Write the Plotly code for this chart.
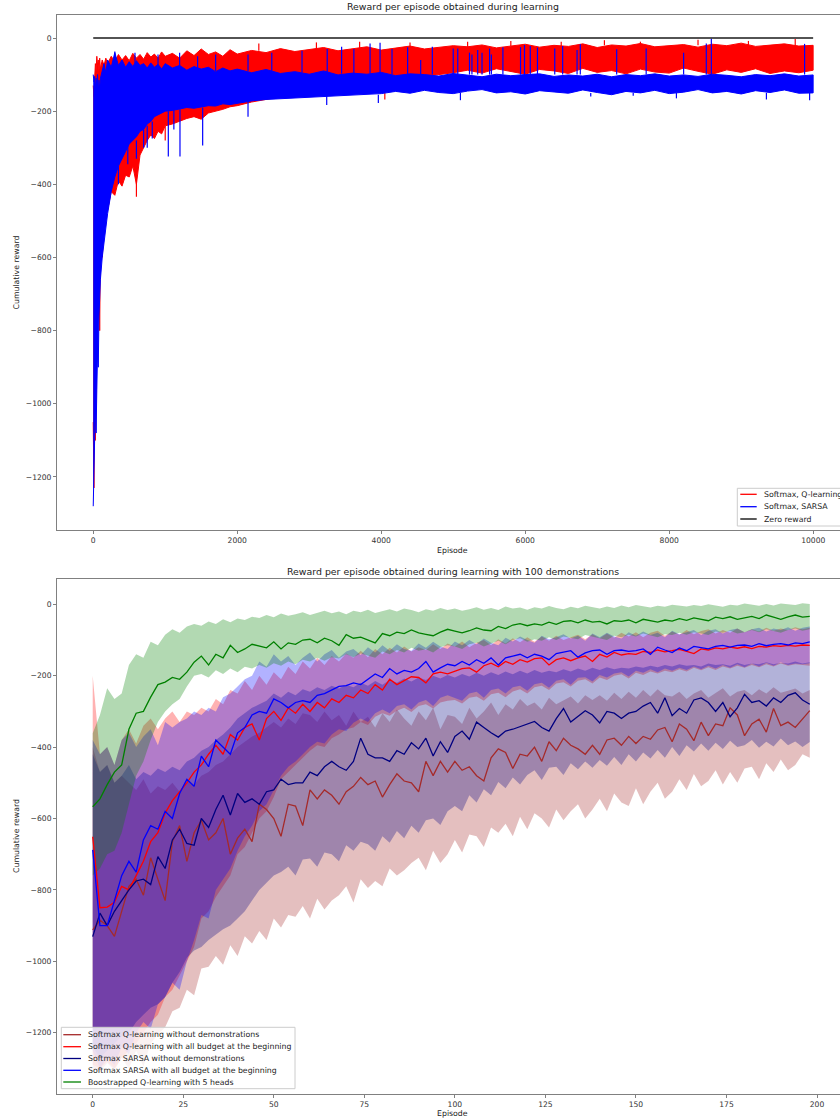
import plotly.graph_objects as go

W, H = 840, 1118
def X(px): return px / W
def Y(py): return 1 - py / H

FONT = "DejaVu Sans"
TXT = "#222222"

# ---------------- TOP CHART DATA ----------------
TOP_TITLE = "Reward per episode obtained during learning"
TOP_LABELS = ["Softmax, Q-learning", "Softmax, SARSA", "Zero reward"]
TOP_XTICKS = [0, 2000, 4000, 6000, 8000, 10000]
TOP_XTICKTEXT = ["0", "2000", "4000", "6000", "8000", "10000"]
YTICKS = [-1200, -1000, -800, -600, -400, -200, 0]
YTICKTEXT = ["\u22121200", "\u22121000", "\u2212800", "\u2212600", "\u2212400", "\u2212200", "0"]

TOP_EP = [0, 10, 20, 30, 40, 50, 60, 70, 80, 90, 100,
          125, 150, 175, 200,
          250, 300, 350, 400, 450, 500, 550, 600, 650, 700, 750, 800, 850, 900, 950, 1000,
          1100, 1200, 1300, 1400, 1500, 1600, 1700, 1800, 1900, 2000,
          2200, 2400, 2600, 2800, 3000, 3200, 3400, 3600, 3800, 4000, 4200, 4400, 4600, 4800, 5000,
          5200, 5400, 5600, 5800, 6000, 6200, 6400, 6600, 6800, 7000, 7200, 7400, 7600, 7800, 8000,
          8200, 8400, 8600, 8800, 9000, 9200, 9400, 9600, 9800, 9999]

RED_UP = [-130, -160, -110, -70, -90, -50, -75, -60, -90, -55, -85,
          -60, -75, -55, -70,
          -50, -65, -45, -60, -48, -62, -42, -55, -45, -58, -40, -52, -44, -55, -38, -50,
          -42, -55, -35, -48, -30, -45, -38, -50, -32, -44,
          -34, -40, -29, -37, -31, -26, -35, -30, -24, -33, -27, -22, -30, -25, -21,
          -24, -19, -27, -21, -17, -25, -20, -23, -16, -26, -19, -22, -15, -24, -20,
          -18, -25, -17, -21, -14, -23, -19, -16, -22, -20]
RED_LO = [-1050, -1230, -900, -1100, -950, -800, -700, -750, -620, -800, -560,
          -600, -520, -480, -470,
          -420, -430, -390, -405, -375, -380, -350, -400, -320, -300, -280, -265, -275, -255, -262, -240,
          -235, -228, -220, -215, -222, -205, -200, -195, -188, -185,
          -175, -168, -160, -155, -150, -148, -140, -135, -130, -125, -120, -110, -105, -100, -95,
          -88, -96, -84, -92, -99, -86, -90, -97, -83, -94, -89, -98, -85, -93, -96,
          -82, -91, -99, -87, -94, -84, -97, -90, -95, -88]
BLUE_UP = [-100, -120, -105, -140, -110, -130, -100, -150, -115, -140, -110,
           -90, -70, -95, -60,
           -80, -40, -75, -60, -80, -65, -78, -62, -75, -70, -82, -68, -80, -72, -85, -70,
           -82, -75, -88, -78, -85, -80, -92, -82, -90, -85,
           -95, -86, -97, -92, -99, -90, -101, -96, -99, -94, -103, -98, -100, -104, -97,
           -102, -106, -99, -103, -100, -98, -105, -101, -104, -99, -106, -100, -103, -98, -104,
           -101, -105, -99, -102, -106, -100, -103, -98, -104, -101]
BLUE_LO = [-1280, -1160, -1100, -1000, -1080, -960, -860, -900, -760, -700, -660,
           -600, -560, -520, -480,
           -420, -380, -350, -330, -310, -290, -280, -270, -255, -250, -235, -228, -215, -210, -205, -200,
           -198, -195, -190, -192, -188, -185, -186, -180, -182, -178,
           -172, -168, -165, -162, -160, -158, -156, -155, -154, -152, -146, -151, -143, -149, -152,
           -145, -141, -150, -147, -153, -144, -148, -151, -142, -149, -155, -146, -150, -143, -152,
           -148, -141, -150, -146, -153, -144, -149, -142, -151, -150]

BLUE_SPK_EP = [300, 580, 900, 1200, 1450, 1700,
               2150, 2480, 2900, 3250, 3450, 3620, 3845, 3984, 4150, 4367,
               4548, 4710, 5000, 5063, 5226, 5260, 5340, 5400, 5505, 5530,
               5690, 5935, 5990, 6070, 6170, 6410, 6520, 6720, 6765, 7270,
               7680, 8200, 8515, 8585, 9880,
               350, 480, 600, 700, 750, 820, 1043, 1120, 1205, 1520,
               2150, 3243, 3960, 5100, 6910, 7500, 8100, 9350, 9950]
BLUE_SPK_FROM = [-60, -70, -80, -80, -85, -90,
                 -90, -90, -95, -95, -98, -98, -98, -98, -100, -100,
                 -100, -100, -100, -100, -100, -100, -100, -100, -100, -100,
                 -100, -100, -100, -100, -100, -100, -100, -100, -100, -100,
                 -100, -100, -100, -100, -100,
                 -350, -290, -280, -250, -240, -228, -200, -198, -195, -190,
                 -175, -158, -155, -150, -150, -150, -150, -150, -150]
BLUE_SPK_TO = [-37, -40, -45, -40, -50, -45,
               -45, -40, -35, -30, -24, -30, -15, -13, -30, -25,
               -60, -24, -29, -29, -40, -45, -33, -40, -29, -45,
               -25, -25, -19, -22, -26, -29, -22, -33, -17, -31,
               -29, -40, -15, -2, -16,
               -400, -345, -330, -300, -300, -275, -324, -250, -324, -294,
               -215, -183, -178, -170, -160, -158, -165, -168, -170]

RED_SPK_EP = [2300, 3100, 3700, 4400, 5200, 5800, 6500, 7100, 7600, 8400, 9100, 9750,
              600, 1000, 4920, 4050]
RED_SPK_FROM = [-35, -30, -30, -28, -25, -22, -22, -20, -22, -20, -20, -20,
                -360, -240, -95, -150]
RED_SPK_TO = [-15, -12, -10, -12, -10, -8, -10, -6, -10, -5, -8, -3,
              -434, -280, -112, -168]

ZERO_EP = [0, 9999]
ZERO_VAL = [0, 0]

# ---------------- BOTTOM CHART DATA ----------------
BOT_TITLE = "Reward per episode obtained during learning with 100 demonstrations"
BOT_LABELS = ["Softmax Q-learning without demonstrations",
              "Softmax Q-learning with all budget at the beginning",
              "Softmax SARSA without demonstrations",
              "Softmax SARSA with all budget at the beginning",
              "Boostrapped Q-learning with 5 heads"]
BOT_XTICKS = [0, 25, 50, 75, 100, 125, 150, 175, 200]
BOT_XTICKTEXT = ["0", "25", "50", "75", "100", "125", "150", "175", "200"]

EP2 = list(range(0, 200, 2))

BROWN_MEAN = [-912, -885, -900, -930, -860, -790, -770, -815, -710, -770,
              -830, -665, -620, -720, -640, -605, -660, -640, -600, -700,
              -655, -630, -665, -560, -575, -600, -650, -560, -565, -620,
              -520, -545, -520, -535, -560, -525, -510, -485, -505, -495,
              -540, -505, -475, -495, -500, -525, -440, -480, -440, -470,
              -440, -465, -455, -480, -495, -430, -405, -415, -460, -420,
              -425, -400, -440, -385, -410, -375, -395, -405, -420, -395,
              -420, -380, -375, -395, -370, -390, -370, -378, -352, -345,
              -385, -335, -350, -382, -330, -368, -335, -340, -290, -310,
              -368, -335, -322, -358, -292, -340, -330, -345, -320, -298]
RED_MEAN = [-651, -850, -848, -835, -790, -800, -760, -720, -665, -640,
            -585, -550, -525, -500, -470, -450, -420, -395, -420, -365,
            -380, -345, -335, -380, -320, -300, -325, -290, -305, -280,
            -300, -275, -290, -265, -275, -255, -262, -240, -250, -225,
            -240, -210, -225, -215, -203, -205, -220, -195, -190, -195,
            -188, -180, -178, -190, -172, -165, -175, -160, -168, -155,
            -162, -152, -150, -170, -155, -150, -158, -150, -145, -160,
            -140, -148, -135, -142, -138, -140, -132, -135, -128, -133,
            -130, -126, -132, -138, -125, -128, -122, -125, -120, -123,
            -119, -124, -118, -120, -116, -118, -115, -117, -114, -115]
NAVY_MEAN = [-931, -865, -900, -860, -830, -800, -775, -770, -785, -707,
             -740, -660, -630, -670, -675, -600, -625, -575, -535, -590,
             -530, -555, -545, -560, -525, -520, -490, -505, -500, -500,
             -470, -480, -455, -440, -455, -465, -440, -375, -420, -430,
             -430, -440, -410, -420, -388, -405, -375, -425, -385, -415,
             -370, -355, -378, -330, -345, -360, -372, -355, -350, -343,
             -335, -328, -345, -355, -320, -292, -330, -315, -298, -310,
             -332, -300, -305, -320, -305, -300, -285, -275, -305, -262,
             -312, -292, -305, -268, -262, -275, -300, -275, -315, -290,
             -252, -275, -270, -285, -262, -275, -255, -248, -268, -280]
BLUE_MEAN = [-688, -900, -900, -830, -760, -720, -750, -660, -620, -630,
             -580, -600, -530, -490, -510, -425, -455, -380, -400, -420,
             -360, -345, -310, -300, -305, -265, -275, -290, -275, -270,
             -275, -255, -250, -240, -230, -228, -220, -225, -210, -195,
             -205, -180, -195, -185, -190, -180, -160, -190, -178, -168,
             -172, -160, -170, -155, -165, -150, -170, -150, -145, -140,
             -150, -140, -145, -155, -138, -135, -130, -148, -136, -130,
             -128, -140, -130, -128, -132, -130, -125, -140, -120, -128,
             -135, -122, -130, -118, -122, -125, -118, -115, -120, -115,
             -114, -118, -110, -116, -112, -110, -114, -108, -110, -105]
GREEN_MEAN = [-567, -545, -505, -470, -450, -350, -305, -300, -260, -225,
              -218, -205, -210, -190, -162, -145, -170, -140, -150, -115,
              -135, -125, -112, -118, -122, -105, -125, -108, -112, -100,
              -98, -108, -95, -102, -115, -85, -95, -92, -100, -108,
              -82, -88, -78, -82, -72, -80, -84, -88, -78, -70,
              -75, -80, -74, -66, -72, -74, -62, -68, -58, -54,
              -60, -55, -58, -50, -56, -48, -46, -52, -44, -50,
              -48, -55, -46, -48, -44, -52, -42, -46, -50, -44,
              -47, -40, -45, -38, -42, -46, -36, -40, -35, -42,
              -38, -34, -40, -30, -36, -42, -35, -30, -36, -34]

BROWN_UP = [-400, -470, -450, -500, -480, -500, -520, -490, -530, -510,
            -520, -500, -525, -490, -505, -480, -470, -450, -440, -420,
            -400, -385, -370, -360, -345, -330, -345, -320, -335, -305,
            -310, -330, -300, -325, -310, -340, -300, -330, -315, -345,
            -305, -330, -295, -320, -340, -300, -325, -290, -350, -310,
            -315, -335, -290, -320, -300, -275, -310, -280, -295, -265,
            -285, -275, -295, -262, -280, -268, -258, -278, -255, -268,
            -255, -270, -248, -265, -245, -262, -240, -258, -238, -255,
            -258, -245, -265, -250, -240, -262, -248, -235, -258, -245,
            -240, -255, -238, -250, -232, -248, -242, -236, -250, -240]
BROWN_LO = [-1300, -1310, -1285, -1305, -1270, -1300, -1250, -1295, -1230, -1205,
            -1185, -1140, -1130, -1080, -1095, -1020, -1015, -985, -1010, -955,
            -985, -930, -950, -915, -940, -880, -905, -870, -875, -845,
            -880, -825, -855, -830, -815, -790, -835, -770, -795, -775,
            -790, -740, -760, -745, -725, -710, -745, -690, -725, -700,
            -660, -695, -645, -650, -680, -625, -640, -615, -650, -595,
            -630, -585, -600, -625, -575, -605, -580, -560, -600, -575,
            -545, -580, -530, -555, -565, -515, -560, -525, -500, -545,
            -525, -490, -520, -475, -510, -495, -465, -505, -470, -500,
            -460, -455, -490, -445, -470, -435, -465, -450, -420, -430]
RED_UP2 = [-200, -420, -400, -450, -380, -350, -390, -340, -320, -350,
           -320, -300, -330, -300, -310, -290, -300, -265, -280, -240,
           -250, -215, -240, -200, -225, -190, -210, -175, -195, -160,
           -180, -150, -170, -145, -160, -138, -150, -130, -148, -125,
           -140, -122, -135, -118, -132, -120, -128, -112, -125, -110,
           -118, -104, -120, -108, -100, -115, -98, -110, -95, -106,
           -92, -105, -90, -102, -88, -100, -92, -85, -98, -84,
           -95, -82, -94, -80, -90, -78, -92, -80, -74, -88,
           -76, -85, -72, -84, -75, -70, -82, -72, -80, -68,
           -78, -70, -76, -66, -74, -68, -72, -64, -70, -66]
RED_LO2 = [-1290, -1300, -1280, -1300, -1270, -1250, -1230, -1200, -1170, -1150,
           -1100, -1080, -1040, -1000, -960, -880, -860, -820, -790, -760,
           -700, -680, -640, -600, -580, -540, -490, -470, -450, -430,
           -410, -395, -400, -375, -365, -350, -345, -330, -338, -315,
           -305, -312, -298, -290, -302, -285, -280, -292, -275, -270,
           -268, -278, -262, -258, -270, -252, -248, -260, -244, -238,
           -250, -232, -228, -240, -222, -218, -230, -214, -210, -222,
           -205, -212, -200, -196, -208, -192, -198, -188, -194, -186,
           -190, -182, -188, -178, -185, -176, -184, -174, -180, -172,
           -178, -170, -176, -168, -174, -166, -172, -168, -170, -172]
NAVY_UP = [-420, -470, -450, -500, -480, -450, -490, -470, -480, -460,
           -470, -455, -465, -440, -430, -410, -400, -380, -365, -345,
           -320, -305, -290, -280, -270, -250, -262, -245, -255, -238,
           -245, -232, -240, -228, -236, -225, -232, -220, -228, -215,
           -225, -212, -220, -208, -216, -205, -212, -200, -208, -198,
           -205, -195, -202, -192, -200, -190, -198, -188, -196, -186,
           -194, -184, -192, -186, -190, -182, -188, -180, -186, -178,
           -184, -176, -182, -178, -180, -174, -178, -172, -176, -170,
           -174, -168, -172, -170, -174, -166, -170, -168, -172, -164,
           -170, -166, -168, -162, -168, -164, -166, -160, -166, -162]
NAVY_LO = [-1240, -1270, -1250, -1230, -1210, -1200, -1170, -1150, -1130, -1120,
           -1100, -1060, -1030, -990, -970, -960, -940, -925, -910, -900,
           -880, -860, -830, -800, -780, -760, -750, -735, -760, -715,
           -712, -735, -695, -700, -720, -675, -690, -665, -672, -690,
           -650, -668, -635, -655, -620, -640, -605, -600, -618, -580,
           -565, -580, -535, -555, -518, -535, -498, -515, -485, -505,
           -478, -465, -492, -458, -455, -478, -445, -462, -440, -458,
           -436, -452, -428, -450, -420, -440, -415, -432, -408, -430,
           -400, -425, -395, -412, -390, -410, -388, -405, -382, -400,
           -395, -380, -402, -385, -398, -376, -395, -384, -400, -386]
BLUE_UP2 = [-380, -420, -400, -450, -380, -360, -400, -370, -350, -395,
            -330, -345, -330, -320, -300, -310, -290, -300, -260, -250,
            -230, -210, -200, -160, -175, -140, -160, -145, -170, -150,
            -135, -160, -140, -128, -150, -132, -125, -142, -120, -135,
            -115, -130, -112, -125, -130, -110, -122, -105, -118, -125,
            -104, -115, -100, -112, -96, -108, -115, -94, -104, -90,
            -100, -108, -88, -98, -92, -84, -96, -88, -102, -82,
            -92, -80, -90, -96, -78, -88, -76, -86, -80, -92,
            -74, -84, -78, -72, -86, -74, -70, -82, -72, -68,
            -78, -70, -66, -76, -68, -72, -64, -74, -66, -62]
BLUE_LO2 = [-1250, -1300, -1270, -1290, -1240, -1260, -1200, -1170, -1190, -1120,
            -1100, -1060, -1080, -1000, -940, -870, -880, -800, -770, -740,
            -690, -650, -620, -580, -560, -520, -480, -455, -440, -420,
            -400, -385, -390, -365, -350, -355, -332, -320, -330, -305,
            -295, -305, -285, -280, -295, -275, -268, -285, -262, -255,
            -262, -270, -250, -245, -262, -240, -236, -250, -232, -228,
            -242, -224, -220, -234, -214, -210, -225, -206, -204, -216,
            -198, -205, -194, -190, -202, -186, -192, -182, -190, -180,
            -186, -178, -184, -174, -182, -172, -180, -170, -178, -168,
            -176, -166, -174, -164, -172, -162, -170, -166, -168, -165]
GREEN_UP = [-361, -310, -235, -265, -250, -170, -140, -150, -105, -115,
            -85, -70, -80, -62, -55, -60, -48, -55, -42, -50,
            -40, -44, -35, -38, -30, -36, -26, -32, -28, -22,
            -30, -24, -18, -25, -20, -28, -18, -22, -15, -24,
            -18, -14, -20, -12, -16, -22, -14, -18, -10, -16,
            -12, -18, -14, -8, -15, -10, -16, -6, -12, -9,
            -15, -8, -12, -5, -10, -14, -7, -11, -4, -9,
            -12, -6, -10, -3, -8, -2, -5, -9, -4, -7,
            -1, -3, -6, -2, -5, 0, -4, -7, -1, -3,
            2, -2, -4, 1, -3, 2, 0, -2, 3, 1]
GREEN_LO = [-760, -740, -700, -690, -640, -560, -480, -440, -380, -330,
            -300, -280, -265, -230, -200, -195, -205, -185, -195, -180,
            -190, -175, -180, -170, -178, -165, -172, -160, -168, -155,
            -160, -150, -158, -148, -152, -140, -148, -138, -145, -150,
            -132, -140, -128, -135, -122, -130, -126, -135, -120, -115,
            -118, -125, -112, -108, -118, -110, -102, -112, -100, -95,
            -105, -98, -102, -92, -100, -90, -94, -98, -86, -92,
            -95, -100, -88, -92, -85, -90, -82, -88, -92, -84,
            -86, -80, -85, -78, -82, -86, -76, -80, -74, -82,
            -78, -72, -78, -70, -76, -80, -72, -68, -74, -70]

# ---------------- FIGURE ----------------
fig = go.Figure()

def polygon(xs, up, lo, fill, xa, ya, line_w=0.0, line_c=None):
    fig.add_trace(go.Scatter(
        x=list(xs) + list(xs)[::-1], y=list(up) + list(lo)[::-1],
        mode="lines", fill="toself", fillcolor=fill,
        line=dict(width=line_w, color=line_c or fill),
        hoverinfo="skip", showlegend=False, xaxis=xa, yaxis=ya))

def spikes(eps, a, b, color, xa, ya):
    xs, ys = [], []
    for e, s, t in zip(eps, a, b):
        xs += [e, e, None]
        ys += [s, t, None]
    fig.add_trace(go.Scatter(x=xs, y=ys, mode="lines", line=dict(color=color, width=1.2),
                             hoverinfo="skip", showlegend=False, xaxis=xa, yaxis=ya))

# top chart
polygon(TOP_EP, RED_UP, RED_LO, "#ff0000", "x", "y", 1.0, "#ff0000")
spikes(RED_SPK_EP, RED_SPK_FROM, RED_SPK_TO, "#ff0000", "x", "y")
polygon(TOP_EP, BLUE_UP, BLUE_LO, "#0000ff", "x", "y", 1.0, "#0000ff")
spikes(BLUE_SPK_EP, BLUE_SPK_FROM, BLUE_SPK_TO, "#0000ff", "x", "y")
fig.add_trace(go.Scatter(x=ZERO_EP, y=ZERO_VAL, mode="lines", line=dict(color="#1a1a1a", width=1.6),
                         showlegend=False, hoverinfo="skip", xaxis="x", yaxis="y"))

# bottom chart bands
BANDS = [(BROWN_UP, BROWN_LO, "rgba(165,42,42,0.3)"),
         (RED_UP2, RED_LO2, "rgba(255,0,0,0.3)"),
         (NAVY_UP, NAVY_LO, "rgba(0,0,128,0.3)"),
         (BLUE_UP2, BLUE_LO2, "rgba(0,0,255,0.3)"),
         (GREEN_UP, GREEN_LO, "rgba(0,128,0,0.3)")]
for up, lo, c in BANDS:
    polygon(EP2, up, lo, c, "x2", "y2")

LINE_COLORS = ["#a52a2a", "#ff0000", "#000080", "#0000ff", "#008000"]
MEANS = [BROWN_MEAN, RED_MEAN, NAVY_MEAN, BLUE_MEAN, GREEN_MEAN]
for m, c, name in zip(MEANS, LINE_COLORS, BOT_LABELS):
    fig.add_trace(go.Scatter(x=EP2, y=m, mode="lines", name=name, line=dict(color=c, width=1.3),
                             showlegend=False, xaxis="x2", yaxis="y2"))

axis_common = dict(showgrid=False, zeroline=False, showline=True, linecolor="#808080", linewidth=1,
                   ticks="outside", ticklen=3, tickwidth=0.8, tickcolor="#808080",
                   tickfont=dict(family=FONT, size=7.6, color="#333333"))

fig.update_layout(
    width=W, height=H, margin=dict(l=0, r=0, t=0, b=0, autoexpand=False),
    paper_bgcolor="white", plot_bgcolor="white", showlegend=False,
    xaxis=dict(domain=[X(57), 1.0], anchor="y", range=[-503, 10372], mirror=True,
               tickvals=TOP_XTICKS, ticktext=TOP_XTICKTEXT, **axis_common),
    yaxis=dict(domain=[Y(530), Y(15)], anchor="x", range=[-1345, 62.9],
               tickvals=YTICKS, ticktext=YTICKTEXT, **axis_common),
    xaxis2=dict(domain=[X(57), 1.0], anchor="y2", range=[-9.86, 206.35], mirror=True,
                tickvals=BOT_XTICKS, ticktext=BOT_XTICKTEXT, **axis_common),
    yaxis2=dict(domain=[Y(1093.7), Y(579)], anchor="x2", range=[-1370.9, 70.9],
                tickvals=YTICKS, ticktext=YTICKTEXT, **axis_common),
)

ann = []
def text(px, py, s, size=7.8, xanchor="center", angle=0):
    ann.append(dict(x=X(px), y=Y(py), xref="paper", yref="paper", text=s, showarrow=False,
                    xanchor=xanchor, yanchor="middle", textangle=angle,
                    font=dict(family=FONT, size=size, color=TXT)))

text(452.5, 7, TOP_TITLE, 9.4)
text(452.5, 571, BOT_TITLE, 9.4)
text(452.5, 550, "Episode")
text(452.5, 1113, "Episode")
text(16, 272.5, "Cumulative reward", angle=-90)
text(16, 836, "Cumulative reward", angle=-90)

shapes = []
# top legend (the reference cuts it at the right edge)
shapes.append(dict(type="rect", xref="paper", yref="paper", x0=X(737.3), x1=X(880), y0=Y(526), y1=Y(488.3),
                   line=dict(color="#cccccc", width=1), fillcolor="rgba(255,255,255,0.8)", layer="above"))
for i, (lab, c) in enumerate(zip(TOP_LABELS, ["#ff0000", "#0000ff", "#000000"])):
    ry = [494.3, 506.7, 519.0][i]
    shapes.append(dict(type="line", xref="paper", yref="paper", x0=X(740.3), x1=X(756.7), y0=Y(ry), y1=Y(ry),
                       line=dict(color=c, width=1.3), layer="above"))
    text(762.3, ry, lab, xanchor="left")
# bottom legend
shapes.append(dict(type="rect", xref="paper", yref="paper", x0=X(61.3), x1=X(295), y0=Y(1088.7), y1=Y(1027.3),
                   line=dict(color="#cccccc", width=1), fillcolor="rgba(255,255,255,0.8)", layer="above"))
for i, (lab, c) in enumerate(zip(BOT_LABELS, LINE_COLORS)):
    ry = [1034.7, 1046.7, 1058.5, 1070.3, 1082.0][i]
    shapes.append(dict(type="line", xref="paper", yref="paper", x0=X(63.3), x1=X(81), y0=Y(ry), y1=Y(ry),
                       line=dict(color=c, width=1.3), layer="above"))
    text(86.3, ry, lab, xanchor="left")

fig.update_layout(annotations=ann, shapes=shapes)

fig.write_html("out.html", config={"displayModeBar": False},
               post_script="document.body.style.margin='0';document.body.style.overflow='hidden';")
